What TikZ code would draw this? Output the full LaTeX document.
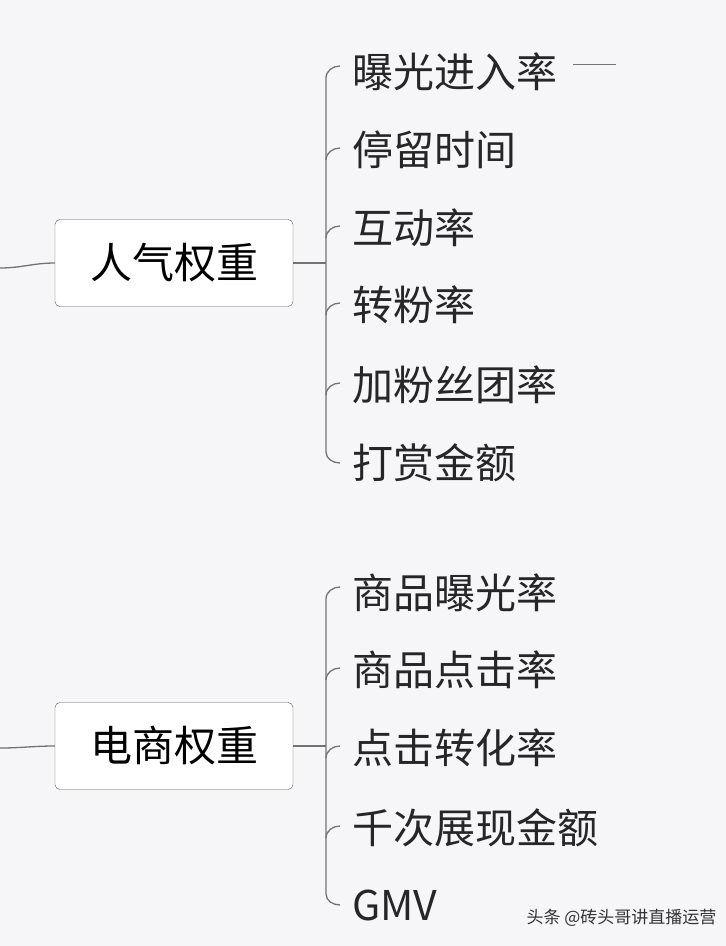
\documentclass[tikz,border=0pt]{standalone}
\usepackage{fontspec}
\setmainfont{Noto Sans CJK SC}
\definecolor{paper}{RGB}{246,246,249}
\tikzset{
  topic/.style={rectangle, draw=black!65, fill=white, rounded corners=5pt, minimum width=238pt, minimum height=87pt, font=\fontsize{42}{44}\selectfont},
  leaf/.style={anchor=west, inner sep=0pt, font=\fontsize{41}{43}\selectfont, text=black!85},
  link/.style={draw=black!55, line width=1.3pt}
}
\begin{document}
\begin{tikzpicture}[x=1pt, y=-1pt]
\useasboundingbox[fill=paper] (0,0) rectangle (726,946);

\node[topic] (P) at (174,263) {人气权重};
\node[topic] (E) at (174,746) {电商权重};
\coordinate (pin) at (0,268);
\coordinate (ein) at (0,748);
\draw[link] (pin) to[out=0, in=180] (P.west);
\draw[link] (ein) to[out=0, in=180] (E.west);

% first group
\coordinate (pb) at (326,263);
\draw[link] (P.east) -- (pb);
\foreach \t/\y [count=\i] in {曝光进入率/72, 停留时间/150, 互动率/228, 转粉率/305, 加粉丝团率/385, 打赏金额/463}
  \node[leaf] (p\i) at (352,\y) {\t};
\draw[link] (340,66) to[out=180, in=90] (326,78) -- (326,452) to[out=-90, in=180] (340,463);
\foreach \i in {2,...,5}
  \draw[link] (326,0 |- p\i.west) ++(0,10) to[out=90, in=180] ++(14,-12);
\coordinate (tail) at (616,64);
\draw[link, line width=1pt] (573,64) -- (tail);

% second group
\coordinate (eb) at (326,746);
\draw[link] (E.east) -- (eb);
\foreach \t/\y [count=\i] in {商品曝光率/593, 商品点击率/670, 点击转化率/748, 千次展现金额/828, GMV/905}
  \node[leaf] (e\i) at (352,\y) {\t};
\draw[link] (340,587) to[out=180, in=90] (326,599) -- (326,894) to[out=-90, in=180] (340,905);
\foreach \i in {2,...,4}
  \draw[link] (326,0 |- e\i.west) ++(0,10) to[out=90, in=180] ++(14,-12);

\node[anchor=east, font=\fontsize{17}{18}\selectfont, text=black!80] (mark) at (720,918) {头条 @砖头哥讲直播运营};
\end{tikzpicture}
\end{document}
